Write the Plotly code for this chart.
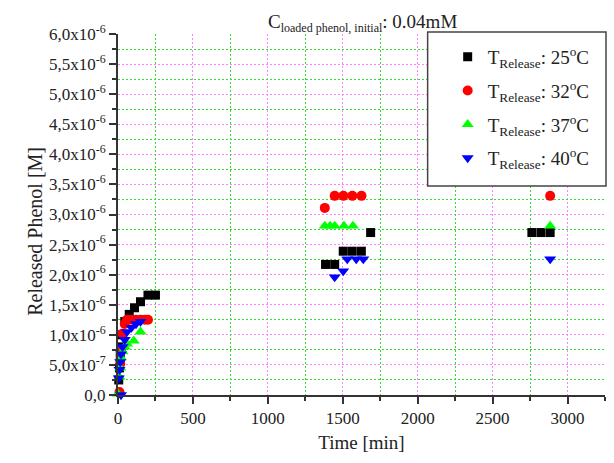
import plotly.graph_objects as go

# ---- data (time in min, released phenol in units of 1e-6 M) ----
black_t = [5, 10, 15, 20, 30, 45, 75, 110, 150, 200, 250, 1385, 1446, 1503, 1563, 1624, 1686, 2762, 2823, 2884]
black_v = [0.25, 0.45, 0.62, 0.8, 1.0, 1.22, 1.34, 1.45, 1.55, 1.66, 1.66, 2.17, 2.17, 2.39, 2.39, 2.39, 2.70, 2.70, 2.70, 2.70]

red_t = [10, 15, 20, 30, 45, 60, 90, 120, 150, 180, 200, 1380, 1446, 1504, 1564, 1625, 2884]
red_v = [0.05, 0.52, 0.75, 1.02, 1.18, 1.25, 1.25, 1.25, 1.25, 1.25, 1.25, 3.11, 3.31, 3.31, 3.31, 3.31, 3.31]

green_t = [0, 10, 15, 20, 30, 45, 60, 105, 150, 1380, 1415, 1446, 1508, 1568, 2884]
green_v = [0.02, 0.3, 0.45, 0.62, 0.72, 0.8, 0.85, 0.9, 1.05, 2.81, 2.81, 2.81, 2.81, 2.81, 2.81]

blue_t = [20, 5, 10, 15, 20, 30, 45, 60, 90, 120, 150, 1446, 1503, 1530, 1590, 1637, 2884]
blue_v = [0.0, 0.28, 0.42, 0.55, 0.68, 0.8, 0.92, 1.05, 1.12, 1.18, 1.22, 1.96, 2.06, 2.26, 2.26, 2.26, 2.26]

names = ["T<sub>Release</sub>: 25<sup>o</sup>C", "T<sub>Release</sub>: 32<sup>o</sup>C",
         "T<sub>Release</sub>: 37<sup>o</sup>C", "T<sub>Release</sub>: 40<sup>o</sup>C"]

x_tickvals = [0, 500, 1000, 1500, 2000, 2500, 3000]
x_minorvals = [250, 750, 1250, 1750, 2250, 2750, 3250]

y_tickvals = [0, 0.5, 1.0, 1.5, 2.0, 2.5, 3.0, 3.5, 4.0, 4.5, 5.0, 5.5, 6.0]
y_ticktext = ["0,0", "5,0x10<sup>-7</sup>", "1,0x10<sup>-6</sup>", "1,5x10<sup>-6</sup>", "2,0x10<sup>-6</sup>",
              "2,5x10<sup>-6</sup>", "3,0x10<sup>-6</sup>", "3,5x10<sup>-6</sup>", "4,0x10<sup>-6</sup>",
              "4,5x10<sup>-6</sup>", "5,0x10<sup>-6</sup>", "5,5x10<sup>-6</sup>", "6,0x10<sup>-6</sup>"]
y_minorvals = [0.25, 0.75, 1.25, 1.75, 2.25, 2.75, 3.25, 3.75, 4.25, 4.75, 5.25, 5.75]

X_RANGE = [0, 3250]
Y_RANGE = [0, 6.0]

FONT = "Liberation Serif, Times New Roman, serif"
PINK = "#ff80ff"
GREEN = "#33dd33"
DOT = "1.5px,2.5px"

series = [
    (black_t, black_v, "black", "square", 9),
    (red_t, red_v, "#ff0000", "circle", 10),
    (green_t, green_v, "#00ff00", "triangle-up", 10.5),
    (blue_t, blue_v, "#0000ff", "triangle-down", 10.5),
]

fig = go.Figure()
# empty trace that only carries the overlay axes used for the minor (green) grid
fig.add_trace(go.Scatter(x=[], y=[], xaxis="x2", yaxis="y2", showlegend=False, hoverinfo="skip"))
for i, (t, v, c, sym, sz) in enumerate(series):
    fig.add_trace(go.Scatter(
        x=t, y=v, mode="markers", name=names[i], legendgroup=str(i),
        marker=dict(color=c, symbol=sym, size=sz, line=dict(width=0)),
        cliponaxis=False,
    ))

axis_common = dict(
    showline=True, linecolor="#333333", linewidth=2,
    ticks="outside", ticklen=7, tickwidth=1.5, tickcolor="#333333",
    showgrid=True, gridcolor=PINK, griddash=DOT, gridwidth=1,
    zeroline=False,
    tickfont=dict(family=FONT, size=17, color="#222"),
)

fig.update_layout(
    xaxis=dict(
        range=X_RANGE, tickmode="array", tickvals=x_tickvals,
        minor=dict(tickmode="array", tickvals=x_minorvals, ticklen=4, tickwidth=1.5, tickcolor="#333333",
                   ticks="outside", showgrid=False),
        title=dict(text="Time [min]", font=dict(family=FONT, size=19, color="#222"), standoff=8),
        **axis_common,
    ),
    yaxis=dict(
        range=Y_RANGE, tickmode="array", tickvals=y_tickvals, ticktext=y_ticktext,
        minor=dict(tickmode="array", tickvals=y_minorvals, ticklen=4, tickwidth=1.5, tickcolor="#333333",
                   ticks="outside", showgrid=False),
        **axis_common,
    ),
    xaxis2=dict(overlaying="x", anchor="y2", range=X_RANGE, tickmode="array", tickvals=x_minorvals,
                showgrid=True, gridcolor=GREEN, griddash=DOT, gridwidth=1,
                showticklabels=False, ticks="", showline=False, zeroline=False),
    yaxis2=dict(overlaying="y", anchor="x2", range=Y_RANGE, tickmode="array", tickvals=y_minorvals,
                showgrid=True, gridcolor=GREEN, griddash=DOT, gridwidth=1,
                showticklabels=False, ticks="", showline=False, zeroline=False),
)

# y-axis title (placed as rotated text, slightly below the axis centre as in the original)
fig.add_annotation(text="Released Phenol [M]", xref="paper", yref="paper",
                   x=(35 - 118) / 486, y=(395 - 231) / 361, xanchor="center", yanchor="middle",
                   textangle=-90, showarrow=False, font=dict(family=FONT, size=20, color="#222"))

fig.add_shape(type="rect", xref="paper", yref="paper",
              x0=(427 - 118) / 486, x1=(605 - 118) / 486,
              y0=(395 - 186) / 361, y1=(395 - 32) / 361,
              line=dict(color="#444444", width=1.5), fillcolor="white", layer="above")

fig.add_annotation(text="C<sub><span style=\"font-size:12px\">loaded phenol, initial</span></sub>: 0.04mM",
                   xref="paper", yref="paper",
                   x=(362 - 118) / 486, y=1.0 + (34 - 23) / 361, xanchor="center", yanchor="middle",
                   showarrow=False, font=dict(family=FONT, size=19, color="#222"))

fig.update_layout(
    width=614, height=463,
    margin=dict(l=118, r=9, t=34, b=68),
    paper_bgcolor="white", plot_bgcolor="white",
    showlegend=True,
    legend=dict(x=(447 - 118) / 486, y=(395 - 38) / 361, xanchor="left", yanchor="top",
                bgcolor="rgba(0,0,0,0)", borderwidth=0, traceorder="grouped", tracegroupgap=6,
                font=dict(family=FONT, size=19, color="#222")),
    font=dict(family=FONT),
)

fig.write_html("out.html")
